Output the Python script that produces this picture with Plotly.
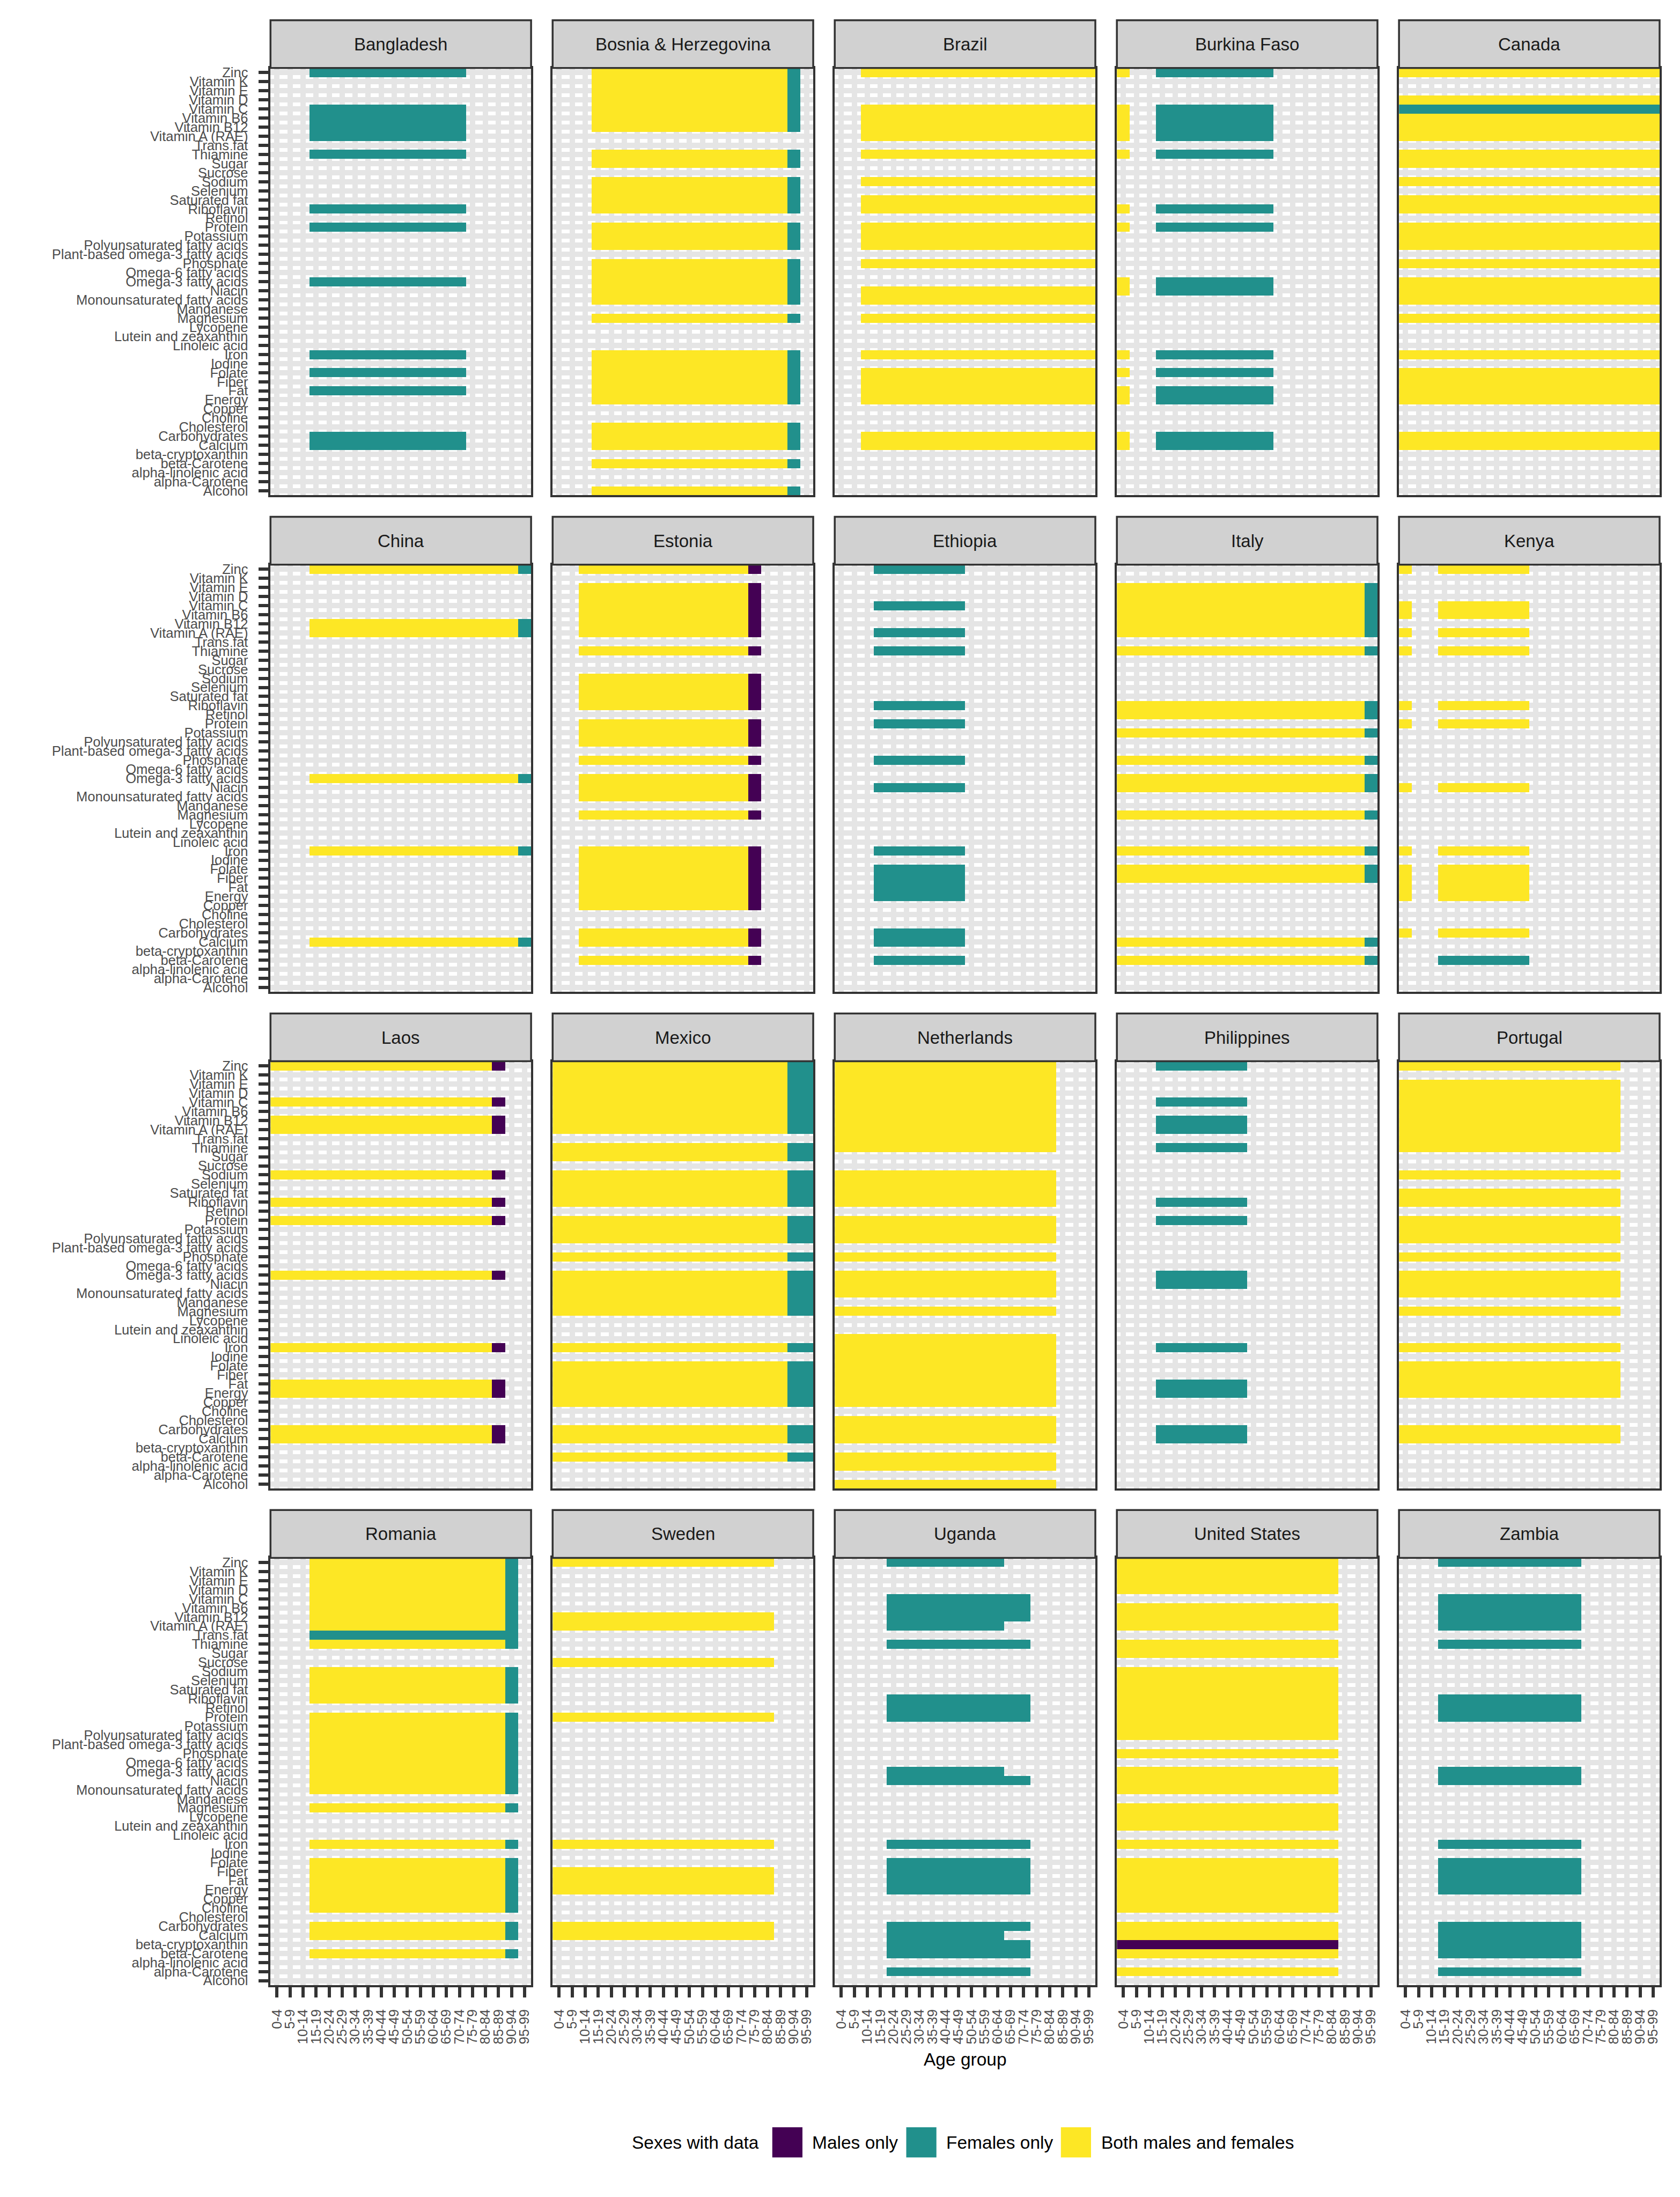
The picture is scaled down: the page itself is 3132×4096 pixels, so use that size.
import plotly.graph_objects as go

# ---------------- data ----------------
AGE_GROUPS = ["0-4", "5-9", "10-14", "15-19", "20-24", "25-29", "30-34", "35-39",
              "40-44", "45-49", "50-54", "55-59", "60-64", "65-69", "70-74",
              "75-79", "80-84", "85-89", "90-94", "95-99"]

# top to bottom as displayed
NUTRIENTS = ["Zinc", "Vitamin K", "Vitamin E", "Vitamin D", "Vitamin C", "Vitamin B6",
             "Vitamin B12", "Vitamin A (RAE)", "Trans fat", "Thiamine", "Sugar", "Sucrose",
             "Sodium", "Selenium", "Saturated fat", "Riboflavin", "Retinol", "Protein",
             "Potassium", "Polyunsaturated fatty acids", "Plant-based omega-3 fatty acids",
             "Phosphate", "Omega-6 fatty acids", "Omega-3 fatty acids", "Niacin",
             "Monounsaturated fatty acids", "Manganese", "Magnesium", "Lycopene",
             "Lutein and zeaxanthin", "Linoleic acid", "Iron", "Iodine", "Folate", "Fiber",
             "Fat", "Energy", "Copper", "Choline", "Cholesterol", "Carbohydrates", "Calcium",
             "beta-cryptoxanthin", "beta-Carotene", "alpha-linolenic acid", "alpha-Carotene",
             "Alcohol"]

COUNTRIES = ["Bangladesh", "Bosnia & Herzegovina", "Brazil", "Burkina Faso", "Canada",
             "China", "Estonia", "Ethiopia", "Italy", "Kenya",
             "Laos", "Mexico", "Netherlands", "Philippines", "Portugal",
             "Romania", "Sweden", "Uganda", "United States", "Zambia"]

SEX_CODES = {"M": 1, "F": 2, "B": 3}
SEX_LABELS = ["Males only", "Females only", "Both males and females"]
SEX_COLORS = ["#440154", "#21908C", "#FDE725"]

# segments: (sexes with data, first age group, last age group, nutrients; "A..B" = A through B)
BANGLADESH = [("F", "15-19", "70-74", ["Zinc", "Vitamin C..Vitamin A (RAE)", "Thiamine", "Riboflavin",
                                       "Protein", "Omega-3 fatty acids", "Iron", "Folate", "Fat",
                                       "Carbohydrates", "Calcium"])]
BOSNIA_ROWS = ["Zinc..Vitamin B12", "Thiamine", "Sugar", "Sodium..Riboflavin",
               "Protein..Polyunsaturated fatty acids", "Phosphate..Monounsaturated fatty acids",
               "Magnesium", "Iron..Energy", "Cholesterol..Calcium", "beta-Carotene", "Alcohol"]
BOSNIA = [("B", "15-19", "85-89", BOSNIA_ROWS), ("F", "90-94", "90-94", BOSNIA_ROWS)]
BRAZIL = [("B", "10-14", "95-99", ["Zinc", "Vitamin C..Vitamin A (RAE)", "Thiamine", "Sodium",
                                   "Saturated fat", "Riboflavin", "Protein..Polyunsaturated fatty acids",
                                   "Phosphate", "Niacin", "Monounsaturated fatty acids", "Magnesium",
                                   "Iron", "Folate..Energy", "Carbohydrates", "Calcium"])]
BURKINA_ROWS = ["Zinc", "Vitamin C..Vitamin A (RAE)", "Thiamine", "Riboflavin", "Protein",
                "Omega-3 fatty acids", "Niacin", "Iron", "Folate", "Fat", "Energy",
                "Carbohydrates", "Calcium"]
BURKINA_FASO = [("B", "0-4", "0-4", BURKINA_ROWS), ("F", "15-19", "55-59", BURKINA_ROWS)]
CANADA = [("B", "0-4", "95-99", ["Zinc", "Vitamin D", "Vitamin B6..Vitamin A (RAE)", "Thiamine", "Sugar",
                                 "Sodium", "Saturated fat", "Riboflavin",
                                 "Protein..Polyunsaturated fatty acids", "Phosphate",
                                 "Omega-3 fatty acids..Monounsaturated fatty acids", "Magnesium",
                                 "Iron", "Folate..Energy", "Carbohydrates", "Calcium"]),
          ("F", "0-4", "95-99", ["Vitamin C"])]
CHINA_ROWS = ["Zinc", "Vitamin B12", "Vitamin A (RAE)", "Omega-3 fatty acids", "Iron", "Calcium"]
CHINA = [("B", "15-19", "90-94", CHINA_ROWS), ("F", "95-99", "95-99", CHINA_ROWS)]
ESTONIA_ROWS = ["Zinc", "Vitamin E..Vitamin A (RAE)", "Thiamine", "Sodium..Riboflavin",
                "Protein..Polyunsaturated fatty acids", "Phosphate",
                "Omega-3 fatty acids..Monounsaturated fatty acids", "Magnesium", "Iron..Copper",
                "Carbohydrates", "Calcium", "beta-Carotene"]
ESTONIA = [("B", "10-14", "70-74", ESTONIA_ROWS), ("M", "75-79", "75-79", ESTONIA_ROWS)]
ETHIOPIA = [("F", "15-19", "45-49", ["Zinc", "Vitamin C", "Vitamin A (RAE)", "Thiamine", "Riboflavin",
                                     "Protein", "Phosphate", "Niacin", "Iron", "Folate..Energy",
                                     "Carbohydrates", "Calcium", "beta-Carotene"])]
ITALY_ROWS = ["Vitamin E..Vitamin A (RAE)", "Thiamine", "Riboflavin", "Retinol", "Potassium",
              "Phosphate", "Omega-3 fatty acids", "Niacin", "Magnesium", "Iron", "Folate", "Fiber",
              "Calcium", "beta-Carotene"]
ITALY = [("B", "0-4", "90-94", ITALY_ROWS), ("F", "95-99", "95-99", ITALY_ROWS)]
KENYA_ROWS = ["Zinc", "Vitamin C", "Vitamin B6", "Vitamin A (RAE)", "Thiamine", "Riboflavin",
              "Protein", "Niacin", "Iron", "Folate..Energy", "Carbohydrates"]
KENYA = [("B", "0-4", "0-4", KENYA_ROWS), ("B", "15-19", "45-49", KENYA_ROWS),
         ("F", "15-19", "45-49", ["beta-Carotene"])]
LAOS_ROWS = ["Zinc", "Vitamin C", "Vitamin B12", "Vitamin A (RAE)", "Sodium", "Riboflavin", "Protein",
             "Omega-3 fatty acids", "Iron", "Fat", "Energy", "Carbohydrates", "Calcium"]
LAOS = [("B", "0-4", "80-84", LAOS_ROWS), ("M", "85-89", "85-89", LAOS_ROWS)]
MEXICO_ROWS = ["Zinc..Vitamin A (RAE)", "Thiamine", "Sugar", "Sodium..Riboflavin",
               "Protein..Polyunsaturated fatty acids", "Phosphate", "Omega-3 fatty acids..Magnesium",
               "Iron", "Folate..Copper", "Carbohydrates", "Calcium", "beta-Carotene"]
MEXICO = [("B", "0-4", "85-89", MEXICO_ROWS), ("F", "90-94", "95-99", MEXICO_ROWS)]
NETHERLANDS = [("B", "0-4", "80-84", ["Zinc..Thiamine", "Sodium..Riboflavin",
                                      "Protein..Polyunsaturated fatty acids", "Phosphate",
                                      "Omega-3 fatty acids..Monounsaturated fatty acids", "Magnesium",
                                      "Linoleic acid..Copper", "Cholesterol..Calcium", "beta-Carotene",
                                      "alpha-linolenic acid", "Alcohol"])]
PHILIPPINES = [("F", "15-19", "45-49", ["Zinc", "Vitamin C", "Vitamin B12", "Vitamin A (RAE)", "Thiamine",
                                        "Riboflavin", "Protein", "Omega-3 fatty acids", "Niacin", "Iron",
                                        "Fat", "Energy", "Carbohydrates", "Calcium"])]
PORTUGAL = [("B", "0-4", "80-84", ["Zinc", "Vitamin E..Thiamine", "Sodium", "Saturated fat", "Riboflavin",
                                   "Protein..Polyunsaturated fatty acids", "Phosphate",
                                   "Omega-3 fatty acids..Monounsaturated fatty acids", "Magnesium",
                                   "Iron", "Folate..Energy", "Carbohydrates", "Calcium"])]
ROMANIA_ROWS = ["Zinc..Vitamin A (RAE)", "Thiamine", "Sodium..Riboflavin",
                "Protein..Monounsaturated fatty acids", "Magnesium", "Iron", "Folate..Choline",
                "Carbohydrates", "Calcium", "beta-Carotene"]
ROMANIA = [("B", "15-19", "85-89", ROMANIA_ROWS), ("F", "90-94", "90-94", ROMANIA_ROWS),
           ("F", "15-19", "90-94", ["Trans fat"])]
SWEDEN = [("B", "0-4", "80-84", ["Zinc", "Vitamin B12", "Vitamin A (RAE)", "Sucrose", "Protein", "Iron",
                                 "Fiber", "Fat", "Energy", "Carbohydrates", "Calcium"])]
UGANDA = [("F", "20-24", "70-74", ["Vitamin C", "Vitamin B6", "Vitamin B12", "Thiamine", "Riboflavin",
                                   "Retinol", "Protein", "Niacin", "Iron", "Folate..Energy",
                                   "Carbohydrates", "beta-cryptoxanthin", "beta-Carotene",
                                   "alpha-Carotene"]),
          ("F", "20-24", "60-64", ["Zinc", "Vitamin A (RAE)", "Omega-3 fatty acids", "Calcium"])]
UNITED_STATES = [("B", "0-4", "80-84", ["Zinc..Vitamin D", "Vitamin B6..Vitamin A (RAE)", "Thiamine",
                                        "Sugar", "Sodium..Polyunsaturated fatty acids", "Phosphate",
                                        "Omega-3 fatty acids..Monounsaturated fatty acids",
                                        "Magnesium..Lutein and zeaxanthin", "Iron", "Folate..Choline",
                                        "Carbohydrates", "Calcium", "beta-Carotene", "alpha-Carotene"]),
                 ("M", "0-4", "80-84", ["beta-cryptoxanthin"])]
ZAMBIA = [("F", "15-19", "65-69", ["Zinc", "Vitamin C..Vitamin A (RAE)", "Thiamine", "Riboflavin",
                                   "Retinol", "Protein", "Omega-3 fatty acids", "Niacin", "Iron",
                                   "Folate..Energy", "Carbohydrates..beta-Carotene", "alpha-Carotene"])]

COUNTRY_DATA = [BANGLADESH, BOSNIA, BRAZIL, BURKINA_FASO, CANADA,
                CHINA, ESTONIA, ETHIOPIA, ITALY, KENYA,
                LAOS, MEXICO, NETHERLANDS, PHILIPPINES, PORTUGAL,
                ROMANIA, SWEDEN, UGANDA, UNITED_STATES, ZAMBIA]


def expand(items):
    out = []
    for it in items:
        if ".." in it:
            a, b = it.split("..")
            i0, i1 = NUTRIENTS.index(a), NUTRIENTS.index(b)
            out.extend(NUTRIENTS[i0:i1 + 1])
        else:
            out.append(it)
    return out


def build_z(segments):
    z = [[None] * len(AGE_GROUPS) for _ in NUTRIENTS]
    for sex, a0, a1, rows in segments:
        c0, c1 = AGE_GROUPS.index(a0), AGE_GROUPS.index(a1)
        for n in expand(rows):
            r = NUTRIENTS.index(n)
            for c in range(c0, c1 + 1):
                z[r][c] = SEX_CODES[sex]
    return z


# ---------------- layout geometry (reference px * S) ----------------
W, H = 3132, 4096
S = 0.803
FONT = "Liberation Sans, Arial, Helvetica, sans-serif"
COL_LEFT0, COL_PITCH, PANEL_W = 628, 655, 605
ROW_TOP0, ROW_PITCH, PANEL_H = 158, 1153, 992
STRIP_H = 111
BORDER = "#333333"

colorscale = [[0.0, SEX_COLORS[0]], [0.25, SEX_COLORS[0]],
              [0.25, SEX_COLORS[1]], [0.75, SEX_COLORS[1]],
              [0.75, SEX_COLORS[2]], [1.0, SEX_COLORS[2]]]

fig = go.Figure()
shapes = []
annotations = []
layout = {}

for i, (country, segs) in enumerate(zip(COUNTRIES, COUNTRY_DATA)):
    r, c = divmod(i, 5)
    sfx = "" if i == 0 else str(i + 1)
    x0 = (COL_LEFT0 + COL_PITCH * c) * S
    x1 = x0 + PANEL_W * S
    y0 = (ROW_TOP0 + ROW_PITCH * r) * S
    y1 = y0 + PANEL_H * S

    fig.add_trace(go.Heatmap(
        z=build_z(segs), x=AGE_GROUPS, y=NUTRIENTS,
        colorscale=colorscale, zmin=1, zmax=3, showscale=False,
        xaxis="x" + sfx, yaxis="y" + sfx, xgap=0, ygap=0,
        hoverongaps=False,
    ))

    bottom = (r == 3)
    left = (c == 0)
    layout["xaxis" + sfx] = dict(
        domain=[x0 / W, x1 / W], anchor="y" + sfx, type="category",
        range=[-0.5, len(AGE_GROUPS) - 0.5],
        tickmode="array", tickvals=AGE_GROUPS, ticktext=AGE_GROUPS,
        showgrid=True, gridcolor="#E5E5E5", gridwidth=10, zeroline=False,
        showline=True, mirror=True, linecolor=BORDER, linewidth=3.5,
        ticks="outside" if bottom else "", ticklen=19, tickwidth=5.5, tickcolor=BORDER,
        showticklabels=bottom, tickangle=-90, ticklabelstandoff=12,
        tickfont=dict(family=FONT, size=25.5, color="#4D4D4D"),
        automargin=False, fixedrange=True,
    )
    layout["yaxis" + sfx] = dict(
        domain=[1 - y1 / H, 1 - y0 / H], anchor="x" + sfx, type="category",
        range=[len(NUTRIENTS) - 0.5, -0.5],
        tickmode="array", tickvals=NUTRIENTS, ticktext=NUTRIENTS,
        showgrid=True, gridcolor="#E5E5E5", gridwidth=10, zeroline=False,
        showline=True, mirror=True, linecolor=BORDER, linewidth=3.5,
        ticks="outside" if left else "", ticklen=19, tickwidth=5.5, tickcolor=BORDER,
        showticklabels=left, ticklabelstandoff=14,
        tickfont=dict(family=FONT, size=25.5, color="#4D4D4D"),
        automargin=False, fixedrange=True,
    )

    # facet strip
    st = y0 - STRIP_H * S
    shapes.append(dict(type="rect", xref="paper", yref="paper",
                       x0=x0 / W, x1=x1 / W, y0=1 - y0 / H, y1=1 - st / H,
                       fillcolor="#D1D1D1", line=dict(color=BORDER, width=3.5), layer="above"))
    annotations.append(dict(text=country, xref="paper", yref="paper",
                            x=(x0 + x1) / 2 / W, y=1 - (st + y0) / 2 / H,
                            xanchor="center", yanchor="middle", showarrow=False,
                            font=dict(family=FONT, size=33, color="#1A1A1A")))

# axis title
annotations.append(dict(text="Age group", xref="paper", yref="paper",
                        x=(COL_LEFT0 + COL_PITCH * 2 + PANEL_W / 2) * S / W, y=1 - 4782 * S / H,
                        xanchor="center", yanchor="middle", showarrow=False,
                        font=dict(family=FONT, size=33.5, color="#000000")))

# legend (drawn manually)
LEG_Y = 4974 * S
KEY = 70 * S
annotations.append(dict(text="Sexes with data", xref="paper", yref="paper",
                        x=1765 * S / W, y=1 - LEG_Y / H, xanchor="right", yanchor="middle",
                        showarrow=False, font=dict(family=FONT, size=33.5, color="#000000")))
key_x = [1793, 2104, 2463]
text_x = [1883, 2194, 2554]
for lab, col, kx, tx in zip(SEX_LABELS, SEX_COLORS, key_x, text_x):
    shapes.append(dict(type="rect", xref="paper", yref="paper",
                       x0=kx * S / W, x1=(kx * S + KEY) / W,
                       y0=1 - (LEG_Y + KEY / 2) / H, y1=1 - (LEG_Y - KEY / 2) / H,
                       fillcolor=col, line=dict(width=0)))
    annotations.append(dict(text=lab, xref="paper", yref="paper",
                            x=tx * S / W, y=1 - LEG_Y / H, xanchor="left", yanchor="middle",
                            showarrow=False, font=dict(family=FONT, size=33.5, color="#000000")))

fig.update_layout(
    width=W, height=H, autosize=False,
    margin=dict(l=0, r=0, t=0, b=0, pad=0),
    paper_bgcolor="white", plot_bgcolor="white",
    showlegend=False, shapes=shapes, annotations=annotations,
    font=dict(family=FONT),
    **layout,
)

fig.write_html("out.html")
